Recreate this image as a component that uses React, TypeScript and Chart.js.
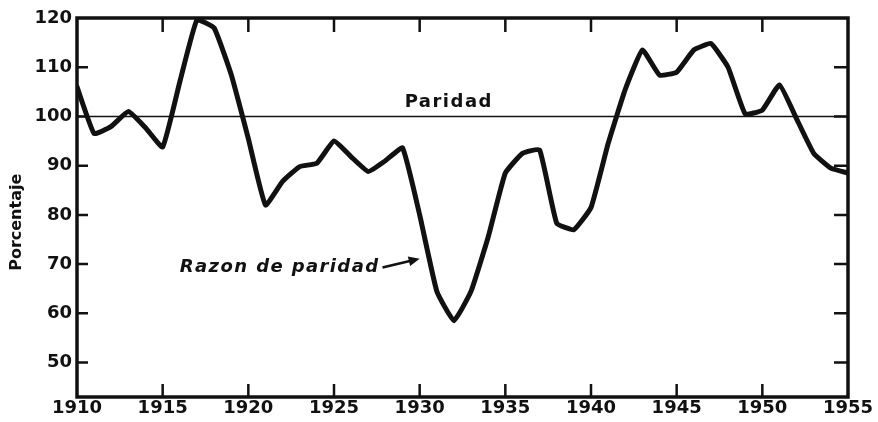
import { useEffect, useRef } from "react";
import { Chart, registerables } from "chart.js";

Chart.register(...registerables);

// ---------- data ----------
const years = [
  1910, 1911, 1912, 1913, 1914, 1915, 1916, 1917, 1918, 1919,
  1920, 1921, 1922, 1923, 1924, 1925, 1926, 1927, 1928, 1929,
  1930, 1931, 1932, 1933, 1934, 1935, 1936, 1937, 1938, 1939,
  1940, 1941, 1942, 1943, 1944, 1945, 1946, 1947, 1948, 1949,
  1950, 1951, 1952, 1953, 1954, 1955,
];
const razonParidad = [
  106, 96.5, 98, 101, 97.7, 93.8, 107, 119.6, 118, 108.5,
  95.5, 82, 86.8, 89.8, 90.5, 95, 91.8, 88.8, 91, 93.6,
  80, 64.5, 58.5, 64.5, 75.5, 88.5, 92.5, 93.2, 78.3, 77,
  81.5, 94.5, 105.5, 113.5, 108.4, 109, 113.5, 114.8, 110, 100.5,
  101.3, 106.4, 99.5, 92.5, 89.5, 88.5,
];
const paridadValue = 100;
const paridadYears = [1910, 1955];
const xTickYears = [1910, 1915, 1920, 1925, 1930, 1935, 1940, 1945, 1950, 1955];
const xTickLabels = ["1910", "1915", "1920", "1925", "1930", "1935", "1940", "1945", "1950", "1955"];
const yTickValues = [50, 60, 70, 80, 90, 100, 110, 120];
const yTickLabels = ["50", "60", "70", "80", "90", "100", "110", "120"];
const yRange = [43, 120];
const yTitle = "Porcentaje";
const paridadLabel = "Paridad";
const razonLabel = "Razon de paridad";

// annotation anchors (data coordinates)
const paridadLabelAt = { x: 1931.7, y: 100 };
const razonLabelAt = { x: 1916, y: 69.3 };
const razonArrowTip = { x: 1930, y: 71.1 };
const yTitleAt = 78.5;

const INK = "#111111";
const FONT = "'DejaVu Sans', sans-serif";

const framePlugin = {
  id: "frame",
  afterDatasetsDraw(chart: any) {
    const { ctx, chartArea: a, scales } = chart;
    const xs = scales.x;
    const ys = scales.y;
    ctx.save();
    ctx.strokeStyle = INK;
    ctx.fillStyle = INK;
    ctx.lineCap = "butt";

    // frame
    ctx.lineWidth = 3.5;
    ctx.strokeRect(a.left, a.top, a.right - a.left, a.bottom - a.top);

    // inward ticks
    ctx.lineWidth = 2.5;
    ctx.beginPath();
    xTickYears.forEach((yr) => {
      if (yr === xTickYears[0] || yr === xTickYears[xTickYears.length - 1]) return;
      const px = xs.getPixelForValue(yr);
      ctx.moveTo(px, a.top);
      ctx.lineTo(px, a.top + 14);
      ctx.moveTo(px, a.bottom);
      ctx.lineTo(px, a.bottom - 13);
    });
    yTickValues.forEach((v) => {
      if (v === yRange[1]) return;
      const py = ys.getPixelForValue(v);
      ctx.moveTo(a.left, py);
      ctx.lineTo(a.left + 11, py);
      ctx.moveTo(a.right, py);
      ctx.lineTo(a.right - 14, py);
    });
    ctx.stroke();

    // Paridad label
    ctx.font = `bold 18px ${FONT}`;
    (ctx as any).letterSpacing = "1.5px";
    ctx.textAlign = "center";
    ctx.textBaseline = "alphabetic";
    ctx.fillText(
      paridadLabel,
      xs.getPixelForValue(paridadLabelAt.x),
      ys.getPixelForValue(paridadLabelAt.y) - 9
    );

    // Razon de paridad label + arrow
    ctx.font = `italic bold 18px ${FONT}`;
    (ctx as any).letterSpacing = "1.4px";
    ctx.textAlign = "left";
    ctx.textBaseline = "middle";
    const tx = xs.getPixelForValue(razonLabelAt.x);
    const ty = ys.getPixelForValue(razonLabelAt.y);
    ctx.fillText(razonLabel, tx, ty);
    const tw = ctx.measureText(razonLabel).width;
    (ctx as any).letterSpacing = "0px";
    const sx = tx + tw + 3;
    const sy = ty;
    const ex = xs.getPixelForValue(razonArrowTip.x);
    const ey = ys.getPixelForValue(razonArrowTip.y);
    const ang = Math.atan2(ey - sy, ex - sx);
    ctx.lineWidth = 2.5;
    ctx.beginPath();
    ctx.moveTo(sx, sy);
    ctx.lineTo(ex - 8 * Math.cos(ang), ey - 8 * Math.sin(ang));
    ctx.stroke();
    ctx.beginPath();
    ctx.moveTo(ex, ey);
    ctx.lineTo(ex - 11 * Math.cos(ang) + 5 * Math.sin(ang), ey - 11 * Math.sin(ang) - 5 * Math.cos(ang));
    ctx.lineTo(ex - 11 * Math.cos(ang) - 5 * Math.sin(ang), ey - 11 * Math.sin(ang) + 5 * Math.cos(ang));
    ctx.closePath();
    ctx.fill();

    // y title
    ctx.save();
    ctx.font = `bold 16px ${FONT}`;
    ctx.textAlign = "center";
    ctx.textBaseline = "middle";
    ctx.translate(17, ys.getPixelForValue(yTitleAt));
    ctx.rotate(-Math.PI / 2);
    ctx.fillText(yTitle, 0, 0);
    ctx.restore();

    ctx.restore();
  },
};

export default function App() {
  const ref = useRef<HTMLCanvasElement | null>(null);

  useEffect(() => {
    if (!ref.current) return;
    const chart = new Chart(ref.current, {
      type: "line",
      data: {
        datasets: [
          {
            label: razonLabel,
            data: years.map((yr, i) => ({ x: yr, y: razonParidad[i] })),
            borderColor: INK,
            borderWidth: 5,
            pointRadius: 0,
            tension: 0.12,
            borderJoinStyle: "round",
            borderCapStyle: "round",
            fill: false,
          },
          {
            label: paridadLabel,
            data: paridadYears.map((yr) => ({ x: yr, y: paridadValue })),
            borderColor: INK,
            borderWidth: 1.6,
            pointRadius: 0,
            fill: false,
          },
        ],
      },
      options: {
        animation: false,
        responsive: true,
        maintainAspectRatio: false,
        layout: { padding: { left: 0, right: 30, top: 18, bottom: 0 } },
        plugins: {
          legend: { display: false },
          tooltip: { enabled: false },
        },
        scales: {
          x: {
            type: "linear",
            min: xTickYears[0],
            max: xTickYears[xTickYears.length - 1],
            grid: { display: false, drawTicks: false },
            border: { display: false },
            afterBuildTicks: (s: any) => {
              s.ticks = xTickYears.map((v) => ({ value: v }));
            },
            afterFit: (s: any) => {
              s.height = 25;
            },
            ticks: {
              padding: 1,
              maxRotation: 0,
              autoSkip: false,
              color: INK,
              font: { family: FONT, size: 18, weight: "bold" },
              callback: (v: any) => xTickLabels[xTickYears.indexOf(Number(v))] ?? "",
            },
          },
          y: {
            type: "linear",
            min: yRange[0],
            max: yRange[1],
            grid: { display: false, drawTicks: false },
            border: { display: false },
            afterBuildTicks: (s: any) => {
              s.ticks = yTickValues.map((v) => ({ value: v }));
            },
            afterFit: (s: any) => {
              s.width = 77;
            },
            ticks: {
              padding: 5,
              autoSkip: false,
              color: INK,
              font: { family: FONT, size: 18, weight: "bold" },
              callback: (v: any) => yTickLabels[yTickValues.indexOf(Number(v))] ?? "",
            },
          },
        },
      },
      plugins: [framePlugin],
    } as any);
    return () => chart.destroy();
  }, []);

  return (
    <div style={{ position: "fixed", left: 0, top: 0, width: 878, height: 422, background: "#fff" }}>
      <canvas ref={ref} />
    </div>
  );
}
